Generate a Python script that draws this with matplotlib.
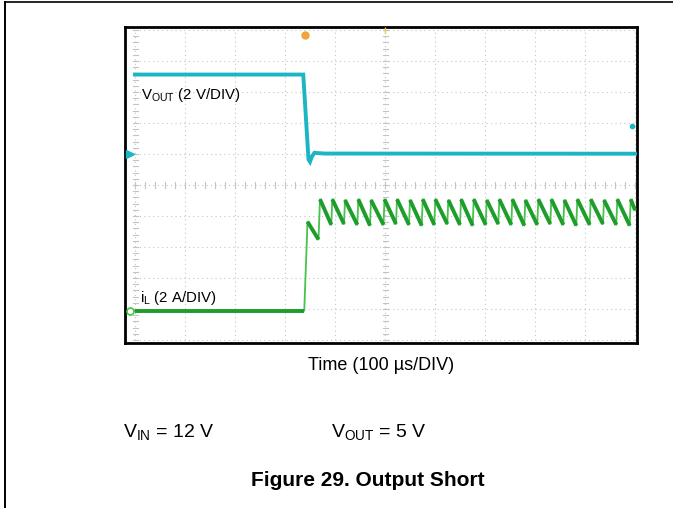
import matplotlib
matplotlib.use("Agg")
import matplotlib.pyplot as plt
from matplotlib.lines import Line2D

plt.rcParams['font.family'] = ['Liberation Sans', 'DejaVu Sans']
plt.rcParams['mathtext.fontset'] = 'custom'
plt.rcParams['mathtext.rm'] = 'Liberation Sans'
plt.rcParams['mathtext.it'] = 'Liberation Sans:italic'
plt.rcParams['mathtext.bf'] = 'Liberation Sans:bold'

# ---------------- data (read from the scope capture) ----------------
# time in microseconds (100 us/DIV, centre = 0)
vout_t = [-500, -163.5, -153, -150, -146, -141, -135, -120, 500]
vout_v = [5.13, 5.13, -0.35, -0.5, -0.15, 0.08, 0.06, 0.03, 0.02]   # volts

il_start_t = [-500, -161.5, -155, -133]
il_start_i = [0.0, 0.0, 5.75, 4.6]                                   # amps

il_peak_t = [-130, -105.4, -80, -53.4, -28, -1, 24, 50, 75.4, 100.6,
             126.6, 152, 177.4, 203.4, 228.6, 254.6, 280.6, 306.6, 332.6,
             358.6, 384.6, 411.4, 438, 464.6, 491.4]
il_peak_i = [7.2, 7.2, 7.15, 7.2, 7.15, 7.2, 7.2, 7.15, 7.2, 7.2,
             7.15, 7.2, 7.2, 7.15, 7.2, 7.2, 7.15, 7.2, 7.2,
             7.15, 7.2, 7.2, 7.15, 7.2, 7.2]
il_trough_i = [5.55, 5.6, 5.55, 5.5, 5.55, 5.6, 5.55, 5.5, 5.55,
               5.6, 5.55, 5.5, 5.55, 5.6, 5.55, 5.5, 5.55, 5.6,
               5.55, 5.5, 5.55, 5.6, 5.55, 5.5]
il_end_t = 500
il_end_i = 6.5

V_PER_DIV = 2.0
A_PER_DIV = 2.0
V_GND_DIV = 1.0
I_GND_DIV = -4.06

CYAN = '#1cb5c3'
GREEN_DARK = '#1f9d2c'
GREEN_LIGHT = '#47c24a'

# ---------------- figure ----------------
W, H = 673, 508
fig = plt.figure(figsize=(W / 100, H / 100), dpi=100)

# page frame lines
fig.add_artist(Line2D([5 / W, 5 / W], [0, 1 - 2 / H], transform=fig.transFigure,
                      color='black', lw=1.4))
fig.add_artist(Line2D([5 / W, 1], [1 - 2 / H, 1 - 2 / H], transform=fig.transFigure,
                      color='black', lw=1.2))

ax = fig.add_axes([125 / W, 1 - 343 / H, (637 - 125) / W, (343 - 27) / H])
ax.set_xlim(-520, 504)
ax.set_ylim(-5.1, 5.1)
ax.set_xticks([])
ax.set_yticks([])
for s in ax.spines.values():
    s.set_linewidth(2.0)
    s.set_color('black')

# graticule
gcol = '#c4c4c4'
for k in range(-5, 6):
    ax.plot([k * 100, k * 100], [-5, 5], color=gcol, lw=0.8,
            linestyle=(0, (1, 3)), zorder=1)
    ax.plot([-500, 500], [k, k], color=gcol, lw=0.8,
            linestyle=(0, (1, 3)), zorder=1)
# minor ticks on centre lines and edges
for m in range(-25, 26):
    y = m * 0.2
    for xc in (0, -500):
        ax.plot([xc - 5, xc + 5], [y, y], color=gcol, lw=0.8, zorder=1)
for m in range(-25, 26):
    x = m * 20
    ax.plot([x, x], [-0.1, 0.1], color=gcol, lw=0.8, zorder=1)

# VOUT trace
vd = [v / V_PER_DIV + V_GND_DIV for v in vout_v]
ax.plot(vout_t, vd, color=CYAN, lw=2.8, solid_joinstyle='miter', zorder=3)

# iL trace
t_all = list(il_start_t) + [il_peak_t[0]]
i_all = list(il_start_i) + [il_peak_i[0]]
for k in range(1, len(il_peak_t)):
    t_all += [il_peak_t[k] - 2, il_peak_t[k]]
    i_all += [il_trough_i[k - 1], il_peak_i[k]]
t_all.append(il_end_t)
i_all.append(il_end_i)
idv = [i / A_PER_DIV + I_GND_DIV for i in i_all]
ax.plot(t_all, idv, color=GREEN_LIGHT, lw=1.3, zorder=3)

# thick segments: flat part, hump decay, each ramp-down
thick = [(il_start_t[0:2], il_start_i[0:2]), (il_start_t[2:4], il_start_i[2:4])]
for k in range(len(il_peak_t)):
    if k + 1 < len(il_peak_t):
        thick.append(([il_peak_t[k], il_peak_t[k + 1] - 2],
                      [il_peak_i[k], il_trough_i[k]]))
    else:
        thick.append(([il_peak_t[k], il_end_t], [il_peak_i[k], il_end_i]))
for ts, is_ in thick:
    ax.plot(ts, [i / A_PER_DIV + I_GND_DIV for i in is_], color=GREEN_DARK,
            lw=2.8, solid_capstyle='butt', zorder=4)

# channel / trigger markers
ax.plot([-510], [V_GND_DIV], marker='>', ms=6, color=CYAN, zorder=5, clip_on=False)
ax.plot([-510], [I_GND_DIV], marker='o', ms=5, mfc='white', mec=GREEN_LIGHT,
        mew=1.2, zorder=5, clip_on=False)
ax.plot([-160], [4.84], marker='o', ms=5, color='#f2a33a', zorder=5)
ax.plot([494], [1.9], marker='o', ms=3, color=CYAN, zorder=5)
ax.plot([0], [5.0], marker='|', ms=5, color='#e8c840', zorder=5)

# labels inside scope
ax.text(-488, 2.79, r'V$_{\mathrm{OUT}}$ (2 V/DIV)', fontsize=10.8,
        ha='left', va='baseline', zorder=6)
ax.text(-489, -3.77, r'i$_{\mathrm{L}}$ (2 A/DIV)', fontsize=10.8,
        ha='left', va='baseline', zorder=6)

# texts below
fig.text(381 / W, 1 - 366 / H, 'Time (100 µs/DIV)', fontsize=13,
         ha='center', va='center')
fig.text(123 / W, 1 - 437 / H, r'V$_{\mathrm{IN}}$ = 12 V', fontsize=14,
         ha='left', va='baseline')
fig.text(331 / W, 1 - 437 / H, r'V$_{\mathrm{OUT}}$ = 5 V', fontsize=14,
         ha='left', va='baseline')
fig.text(368 / W, 1 - 486 / H, 'Figure 29. Output Short', fontsize=15,
         fontweight='bold', ha='center', va='baseline')

fig.savefig('out.png', dpi=100)
